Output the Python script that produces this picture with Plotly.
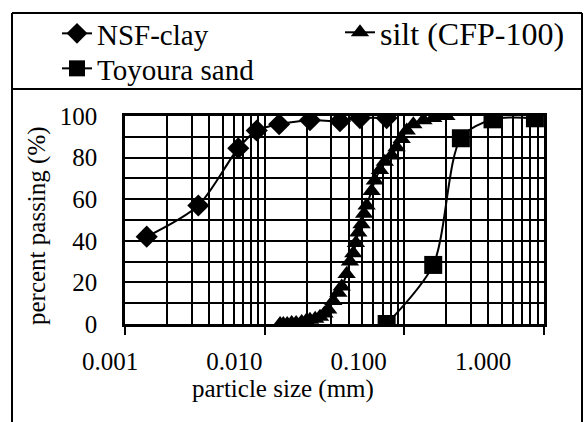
import plotly.graph_objects as go

# ---- data ----
clay_d = [0.00143, 0.00335, 0.00647, 0.00877, 0.0127, 0.0211, 0.0346, 0.0481, 0.0747]
clay_p = [42, 57, 84.5, 93, 96, 98, 97.5, 99, 99]

silt_d = [0.0129, 0.0136, 0.0145, 0.0156, 0.0168, 0.0184, 0.0198, 0.0211, 0.0230, 0.0249,
          0.0268, 0.0285, 0.0310, 0.0337, 0.0356, 0.0386, 0.0408, 0.0431, 0.0450, 0.0468,
          0.0494, 0.0515, 0.0537, 0.0583, 0.0615, 0.0669, 0.0725, 0.0811, 0.0880, 0.0957,
          0.104, 0.116, 0.137, 0.161, 0.190, 0.200]
silt_p = [0, 0, 0, 0.5, 0.5, 1, 1.5, 2, 2.5, 3.5,
          5, 7, 11, 15, 18, 24, 30, 34, 39, 44,
          48, 53, 57, 64, 69, 74, 78, 81, 85, 89,
          93, 96, 98, 99, 100, 100]

sand_d = [0.0747, 0.161, 0.254, 0.428, 0.861]
sand_p = [0, 28.4, 89.3, 98.4, 98.9]

x_tickvals = [0.001, 0.01, 0.1, 1.0]
x_ticktext = ["0.001", "0.010", "0.100", "1.000"]
y_tickvals = [0, 20, 40, 60, 80, 100]

FONT = "Liberation Serif, Times New Roman, serif"
W, H = 587, 422
ML, MR, MT, MB = 110, 43, 116, 98
PW = W - ML - MR
PH = H - MT - MB


def px2x(px):
    return (px - ML) / PW


def px2y(py):
    return (H - MB - py) / PH


line = dict(color="black", width=2, shape="spline", smoothing=0.8)
leg_font = dict(family=FONT, size=29, color="black")

fig = go.Figure()
fig.add_trace(go.Scatter(x=clay_d, y=clay_p, mode="lines+markers", name="NSF-clay",
                         line=line, marker=dict(symbol="diamond", size=17, color="black"),
                         legend="legend"))
fig.add_trace(go.Scatter(x=silt_d, y=silt_p, mode="lines+markers", name="silt (CFP-100)",
                         line=line, marker=dict(symbol="triangle-up", size=16, color="black"),
                         legend="legend2"))
fig.add_trace(go.Scatter(x=sand_d, y=sand_p, mode="lines+markers", name="Toyoura sand",
                         line=line, marker=dict(symbol="square", size=18, color="black"),
                         legend="legend3"))
# carrier for the tick-label axis (labels are shifted in the reference)
fig.add_trace(go.Scatter(x=[x_tickvals[0], x_tickvals[-1]], y=[None, None], mode="lines",
                         xaxis="x2", yaxis="y2", showlegend=False, hoverinfo="skip"))

axis_font = dict(family=FONT, size=25, color="black")

fig.update_layout(
    width=W, height=H,
    margin=dict(l=ML, r=MR, t=MT, b=MB, autoexpand=False),
    paper_bgcolor="white",
    plot_bgcolor="rgba(0,0,0,0)",
    font=dict(family=FONT, color="black"),
    xaxis=dict(
        type="log", range=[-3, 0], domain=[px2x(125), 1],
        anchor="y", automargin=False,
        showticklabels=False, tickvals=x_tickvals,
        ticks="outside", ticklen=8, tickwidth=1.5, tickcolor="black",
        showgrid=True, gridcolor="black", gridwidth=1.5,
        minor=dict(dtick="D1", showgrid=True, gridcolor="black", gridwidth=1.5, ticks=""),
        showline=True, linecolor="black", linewidth=2.5, mirror=True,
    ),
    xaxis2=dict(
        type="log", range=[-3, 0], domain=[0, px2x(483)],
        anchor="y2", automargin=False,
        tickvals=x_tickvals, ticktext=x_ticktext,
        ticks="", showgrid=False, showline=False, zeroline=False,
        tickfont=axis_font, ticklabelstandoff=20,
    ),
    yaxis=dict(
        range=[0, 100], anchor="x", automargin=False,
        tickvals=y_tickvals, ticks="",
        tickfont=axis_font, ticklabelstandoff=20,
        showgrid=True, gridcolor="black", gridwidth=1.5,
        minor=dict(dtick=10, showgrid=True, gridcolor="black", gridwidth=1.5, ticks=""),
        showline=True, linecolor="black", linewidth=2.5, mirror=True,
        zeroline=False,
    ),
    yaxis2=dict(
        range=[0, 100], anchor="x2", domain=[0, 1], automargin=False,
        showticklabels=False, ticks="", showgrid=False, showline=False, zeroline=False,
    ),
    legend=dict(
        x=px2x(57), y=px2y(8), xanchor="left", yanchor="top",
        orientation="v", bgcolor="rgba(0,0,0,0)", borderwidth=0, font=leg_font,
    ),
    legend2=dict(
        x=px2x(340), y=px2y(5), xanchor="left", yanchor="top",
        orientation="v", bgcolor="rgba(0,0,0,0)", borderwidth=0,
        font=dict(family=FONT, size=32, color="black"),
    ),
    legend3=dict(
        x=px2x(57), y=px2y(43), xanchor="left", yanchor="top",
        orientation="v", bgcolor="rgba(0,0,0,0)", borderwidth=0, font=leg_font,
    ),
    annotations=[
        dict(text="particle size (mm)", xref="paper", yref="paper",
             x=px2x(283), y=px2y(389), xanchor="center", yanchor="middle",
             showarrow=False, font=axis_font),
        dict(text="percent passing (%)", xref="paper", yref="paper",
             x=px2x(37), y=px2y(226), xanchor="center", yanchor="middle",
             textangle=-90, showarrow=False, font=axis_font),
    ],
    shapes=[
        dict(type="line", xref="paper", yref="paper", x0=px2x(12), x1=px2x(582),
             y0=px2y(13), y1=px2y(13), line=dict(color="black", width=2)),
        dict(type="line", xref="paper", yref="paper", x0=px2x(12), x1=px2x(582),
             y0=px2y(89), y1=px2y(89), line=dict(color="black", width=2)),
        dict(type="line", xref="paper", yref="paper", x0=px2x(12), x1=px2x(12),
             y0=px2y(13), y1=px2y(430), line=dict(color="black", width=2)),
        dict(type="line", xref="paper", yref="paper", x0=px2x(582), x1=px2x(582),
             y0=px2y(13), y1=px2y(430), line=dict(color="black", width=2)),
    ],
)

fig.write_html("out.html")
